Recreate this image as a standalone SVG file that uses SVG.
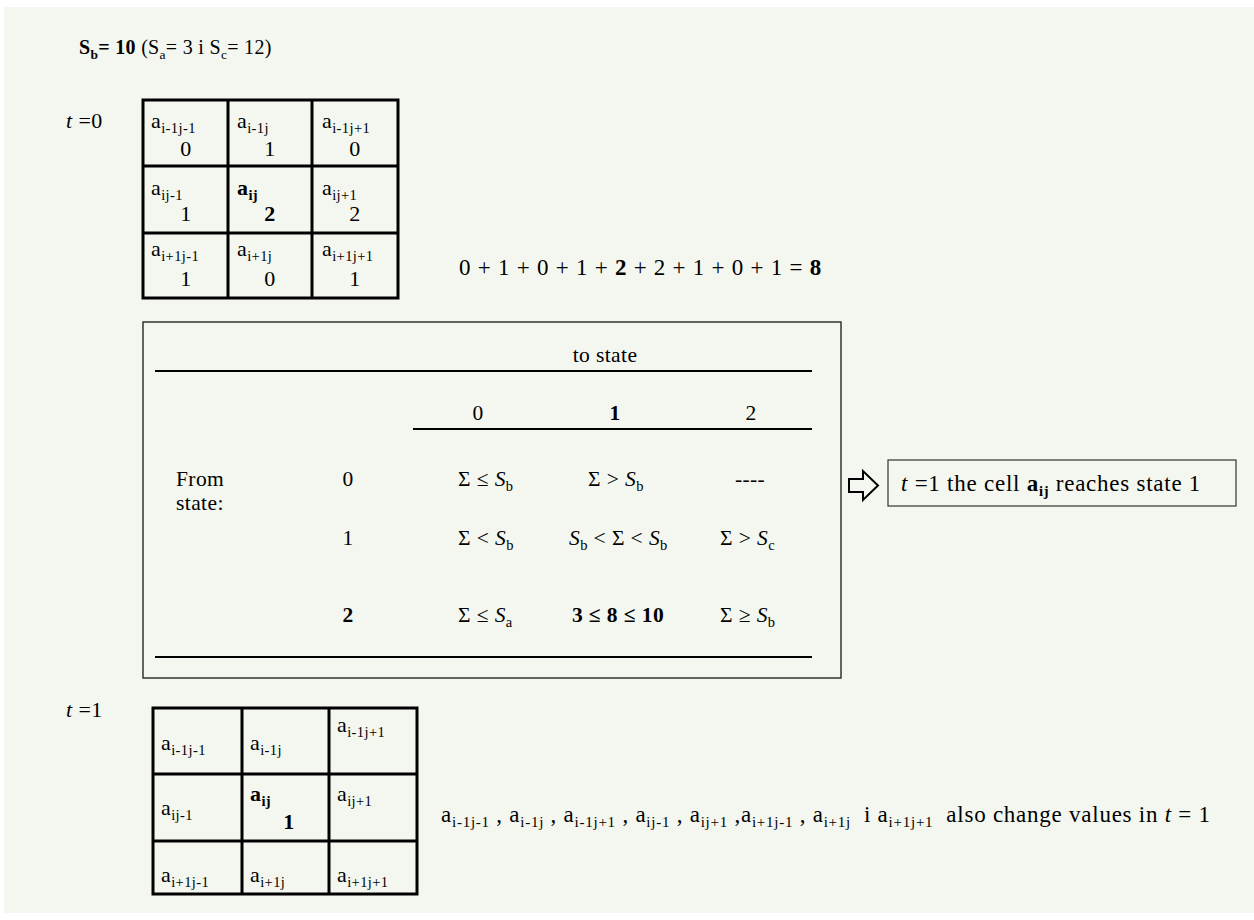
<svg xmlns="http://www.w3.org/2000/svg" width="1254" height="920" viewBox="0 0 1254 920">
<style>
text{font-family:"Liberation Serif","Times New Roman",serif;font-size:22px;letter-spacing:0.4px;fill:#000}
.b{font-weight:bold}
.i{font-style:italic}
.s{font-size:14.5px}
.ttl{font-size:20px;letter-spacing:0.3px}
.ttl .s{font-size:13.5px}
.grid{fill:none;stroke:#000;stroke-width:3}
.rule{stroke:#000;stroke-width:2}
.eq{font-size:23px;letter-spacing:0;word-spacing:1.5px}
.tb{font-size:21.5px;letter-spacing:0.4px}
.note{font-size:23px;letter-spacing:0.75px}
.note .s{font-size:15px}
</style>
<rect x="0" y="0" width="1254" height="920" fill="#fff"/>
<rect x="4" y="7" width="1250" height="906" fill="#F4F7EF"/>

<g id="title">
<text class="ttl" x="79" y="54"><tspan class="b">S<tspan class="s" dy="5">b</tspan><tspan dy="-5">= 10</tspan></tspan> (S<tspan class="s" dy="5">a</tspan><tspan dy="-5">= 3 i S</tspan><tspan class="s" dy="5">c</tspan><tspan dy="-5">= 12)</tspan></text>
</g>

<g id="grid-t0">
<text x="66" y="128"><tspan class="i">t</tspan> =0</text>
<rect class="grid" x="143" y="100" width="255" height="198"/>
<line class="grid" x1="228" y1="100" x2="228" y2="298"/>
<line class="grid" x1="312" y1="100" x2="312" y2="298"/>
<line class="grid" x1="143" y1="166" x2="398" y2="166"/>
<line class="grid" x1="143" y1="233" x2="398" y2="233"/>
<text x="151" y="128">a<tspan class="s" dy="5">i-1j-1</tspan></text>
<text x="237" y="128">a<tspan class="s" dy="5">i-1j</tspan></text>
<text x="322" y="128">a<tspan class="s" dy="5">i-1j+1</tspan></text>
<text x="186" y="156" text-anchor="middle">0</text>
<text x="270" y="156" text-anchor="middle">1</text>
<text x="355" y="156" text-anchor="middle">0</text>
<text x="151" y="195">a<tspan class="s" dy="5">ij-1</tspan></text>
<text x="237" y="195" class="b">a<tspan class="s" dy="5">ij</tspan></text>
<text x="322" y="195">a<tspan class="s" dy="5">ij+1</tspan></text>
<text x="186" y="221" text-anchor="middle">1</text>
<text x="270" y="221" text-anchor="middle" class="b">2</text>
<text x="355" y="221" text-anchor="middle">2</text>
<text x="151" y="256">a<tspan class="s" dy="5">i+1j-1</tspan></text>
<text x="237" y="256">a<tspan class="s" dy="5">i+1j</tspan></text>
<text x="322" y="256">a<tspan class="s" dy="5">i+1j+1</tspan></text>
<text x="186" y="286" text-anchor="middle">1</text>
<text x="270" y="286" text-anchor="middle">0</text>
<text x="355" y="286" text-anchor="middle">1</text>
</g>

<g id="sum">
<text class="eq" x="459" y="275">0 + 1 + 0 + 1 + <tspan class="b">2</tspan> + 2 + 1 + 0 + 1 = <tspan class="b">8</tspan></text>
</g>

<g id="table" class="tb">
<rect x="143" y="322" width="698" height="356" fill="none" stroke="#333" stroke-width="1.5"/>
<line class="rule" x1="155" y1="371" x2="812" y2="371"/>
<line class="rule" x1="413" y1="429" x2="812" y2="429"/>
<line class="rule" x1="155" y1="657" x2="812" y2="657"/>
<text class="tb" x="605" y="362" text-anchor="middle">to state</text>
<text class="tb" x="478" y="420" text-anchor="middle">0</text>
<text class="tb b" x="615" y="420" text-anchor="middle">1</text>
<text class="tb" x="751" y="420" text-anchor="middle">2</text>
<text class="tb" x="176" y="486">From</text>
<text class="tb" x="176" y="510">state:</text>
<text class="tb" x="348" y="486" text-anchor="middle">0</text>
<text class="tb" x="348" y="545" text-anchor="middle">1</text>
<text class="tb b" x="348" y="622" text-anchor="middle">2</text>
<text class="tb" x="458" y="486">Σ ≤ <tspan class="i">S</tspan><tspan class="s" dy="5">b</tspan></text>
<text class="tb" x="588" y="486">Σ &gt; <tspan class="i">S</tspan><tspan class="s" dy="5">b</tspan></text>
<text class="tb" x="750" y="486" text-anchor="middle">----</text>
<text class="tb" x="458" y="545">Σ &lt; <tspan class="i">S</tspan><tspan class="s" dy="5">b</tspan></text>
<text class="tb" x="569" y="545"><tspan class="i">S</tspan><tspan class="s" dy="5">b</tspan><tspan dy="-5"> &lt; Σ &lt; </tspan><tspan class="i">S</tspan><tspan class="s" dy="5">b</tspan></text>
<text class="tb" x="720" y="545">Σ &gt; <tspan class="i">S</tspan><tspan class="s" dy="5">c</tspan></text>
<text class="tb" x="458" y="622">Σ ≤ <tspan class="i">S</tspan><tspan class="s" dy="5">a</tspan></text>
<text class="tb b" x="618" y="622" text-anchor="middle">3 ≤ 8 ≤ 10</text>
<text class="tb" x="720" y="622">Σ ≥ <tspan class="i">S</tspan><tspan class="s" dy="5">b</tspan></text>
</g>

<g id="connectors">
<polygon points="849,479 863,479 863,471 878,485.5 863,500 863,492 849,492" fill="none" stroke="#000" stroke-width="2" stroke-linejoin="miter"/>
</g>

<g id="result">
<rect x="888" y="460" width="348" height="46" fill="none" stroke="#333" stroke-width="1.2"/>
<text x="901" y="491" style="font-size:23px;letter-spacing:0.75px"><tspan class="i">t</tspan> =1 the cell <tspan class="b">a<tspan class="s" dy="5">ij</tspan></tspan><tspan dy="-5"> reaches state 1</tspan></text>
</g>

<g id="grid-t1">
<text x="66" y="717"><tspan class="i">t</tspan> =1</text>
<rect class="grid" x="153" y="708" width="264" height="186"/>
<line class="grid" x1="242" y1="708" x2="242" y2="894"/>
<line class="grid" x1="329" y1="708" x2="329" y2="894"/>
<line class="grid" x1="153" y1="774" x2="417" y2="774"/>
<line class="grid" x1="153" y1="841" x2="417" y2="841"/>
<text x="161" y="750">a<tspan class="s" dy="5">i-1j-1</tspan></text>
<text x="250" y="750">a<tspan class="s" dy="5">i-1j</tspan></text>
<text x="337" y="732">a<tspan class="s" dy="5">i-1j+1</tspan></text>
<text x="161" y="815">a<tspan class="s" dy="5">ij-1</tspan></text>
<text x="250" y="801" class="b">a<tspan class="s" dy="5">ij</tspan></text>
<text x="289" y="829" text-anchor="middle" class="b">1</text>
<text x="337" y="801">a<tspan class="s" dy="5">ij+1</tspan></text>
<text x="161" y="882">a<tspan class="s" dy="5">i+1j-1</tspan></text>
<text x="250" y="882">a<tspan class="s" dy="5">i+1j</tspan></text>
<text x="337" y="882">a<tspan class="s" dy="5">i+1j+1</tspan></text>
</g>

<g id="note">
<text class="note" x="441" y="822">a<tspan class="s" dy="5">i-1j-1</tspan><tspan dy="-5"> , a</tspan><tspan class="s" dy="5">i-1j</tspan><tspan dy="-5"> , a</tspan><tspan class="s" dy="5">i-1j+1</tspan><tspan dy="-5"> , a</tspan><tspan class="s" dy="5">ij-1</tspan><tspan dy="-5"> , a</tspan><tspan class="s" dy="5">ij+1</tspan><tspan dy="-5"> ,a</tspan><tspan class="s" dy="5">i+1j-1</tspan><tspan dy="-5"> , a</tspan><tspan class="s" dy="5">i+1j</tspan><tspan dy="-5" xml:space="preserve">  i a</tspan><tspan class="s" dy="5">i+1j+1</tspan><tspan dy="-5" xml:space="preserve">  also change values in </tspan><tspan class="i">t</tspan> = 1</text>
</g>
</svg>
